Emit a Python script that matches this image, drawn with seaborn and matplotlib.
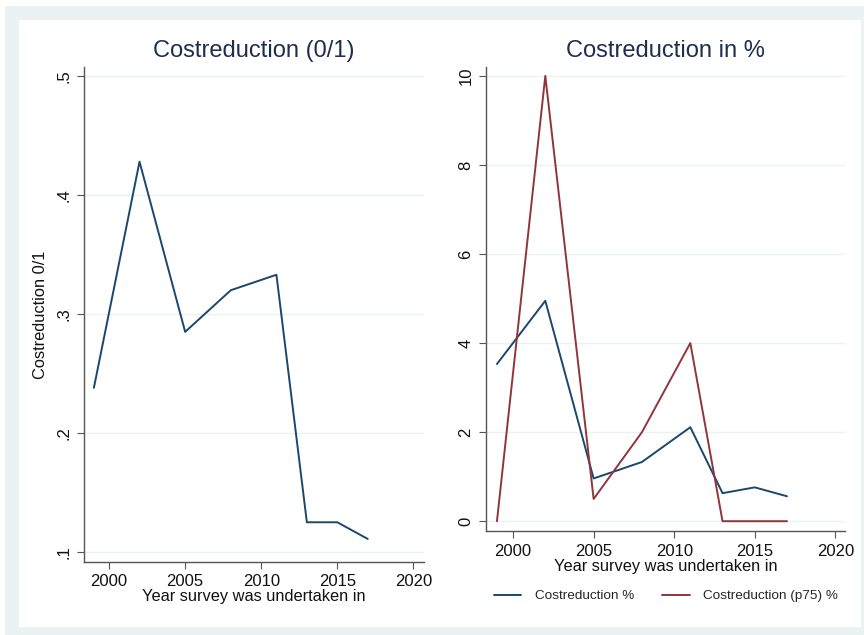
import matplotlib
matplotlib.use("Agg")
import matplotlib.pyplot as plt
from matplotlib.patches import Rectangle
from matplotlib.lines import Line2D
import seaborn as sns
import pandas as pd

years = [1999, 2002, 2005, 2008, 2011, 2013, 2015, 2017]
cost_01 = [0.238, 0.428, 0.285, 0.320, 0.333, 0.125, 0.125, 0.111]
cost_pct = [3.53, 4.95, 0.96, 1.33, 2.11, 0.63, 0.76, 0.56]
cost_p75_pct = [0.0, 10.0, 0.5, 2.0, 4.0, 0.0, 0.0, 0.0]

left_yticks = [0.1, 0.2, 0.3, 0.4, 0.5]
left_yticklabels = [".1", ".2", ".3", ".4", ".5"]
right_yticks = [0, 2, 4, 6, 8, 10]
xticks = [2000, 2005, 2010, 2015, 2020]

navy = "#1a476f"
maroon = "#90353b"
title_col = "#1e2d50"
grid_col = "#eaf2f3"
spine_col = "#555555"

sns.set_theme(style="white")
plt.rcParams["font.family"] = ["Liberation Sans", "DejaVu Sans"]

fig = plt.figure(figsize=(8.64, 6.35), dpi=100)
W, H = 864, 635
fig.patch.set_facecolor("white")
fig.add_artist(Rectangle((5 / W, 0), 1 - 5 / W, 1 - 6 / H, transform=fig.transFigure,
                         facecolor="#eaf2f3", edgecolor="none", zorder=-2))
fig.add_artist(Rectangle((19 / W, 8 / H), (861 - 19) / W, (627 - 20) / H,
                         transform=fig.transFigure, facecolor="white",
                         edgecolor="none", zorder=-1))

df = pd.DataFrame({"year": years, "c01": cost_01, "pct": cost_pct, "p75": cost_p75_pct})


def style_axes(ax):
    ax.set_facecolor("none")
    for s in ["top", "right"]:
        ax.spines[s].set_visible(False)
    for s in ["left", "bottom"]:
        ax.spines[s].set_color(spine_col)
        ax.spines[s].set_linewidth(1.0)
    ax.tick_params(axis="both", which="major", length=5, width=0.8, color=spine_col,
                   labelsize=12, labelcolor="#111111", pad=4, left=True, bottom=True)
    ax.set_xticks(xticks)
    ax.grid(axis="y", color=grid_col, linewidth=1.0)
    ax.grid(axis="x", visible=False)
    ax.set_axisbelow(True)
    for lab in ax.get_yticklabels():
        lab.set_rotation(90)
        lab.set_va("center")


# Left panel: share of respondents reporting a cost reduction
ax1 = fig.add_axes([84 / W, 1 - 562 / H, (424 - 84) / W, (562 - 67) / H])
sns.lineplot(data=df, x="year", y="c01", ax=ax1, color=navy, linewidth=1.4)
ax1.set_xlim(1998.35, 2020.7)
ax1.set_ylim(0.0916, 0.5076)
ax1.set_yticks(left_yticks)
ax1.set_yticklabels(left_yticklabels)
style_axes(ax1)
ax1.set_title("Costreduction (0/1)", fontsize=17, color=title_col, pad=7)
ax1.set_xlabel("Year survey was undertaken in", fontsize=11.8, color="#111111", labelpad=0)
ax1.set_ylabel("Costreduction 0/1", fontsize=11.8, color="#111111", labelpad=6)

# Right panel: mean and p75 cost reduction in percent
ax2 = fig.add_axes([486 / W, 1 - 531 / H, (845 - 486) / W, (531 - 67) / H])
sns.lineplot(data=df, x="year", y="pct", ax=ax2, color=navy, linewidth=1.4)
sns.lineplot(data=df, x="year", y="p75", ax=ax2, color=maroon, linewidth=1.4)
ax2.set_xlim(1998.32, 2020.6)
ax2.set_ylim(-0.22, 10.2)
ax2.set_yticks(right_yticks)
ax2.set_yticklabels([str(v) for v in right_yticks])
style_axes(ax2)
ax2.set_title("Costreduction in %", fontsize=17, color=title_col, pad=7)
ax2.set_xlabel("Year survey was undertaken in", fontsize=11.8, color="#111111", labelpad=0)
ax2.set_ylabel("")

handles = [Line2D([], [], color=navy, linewidth=1.4),
           Line2D([], [], color=maroon, linewidth=1.4)]
fig.legend(handles, ["Costreduction %", "Costreduction (p75) %"],
           loc="center", bbox_to_anchor=(666 / W, 1 - 596 / H), ncol=2,
           frameon=False, fontsize=9.7, handlelength=2.05, columnspacing=2.1,
           handletextpad=1.0)

fig.savefig("out.png", dpi=100, facecolor=fig.get_facecolor())
